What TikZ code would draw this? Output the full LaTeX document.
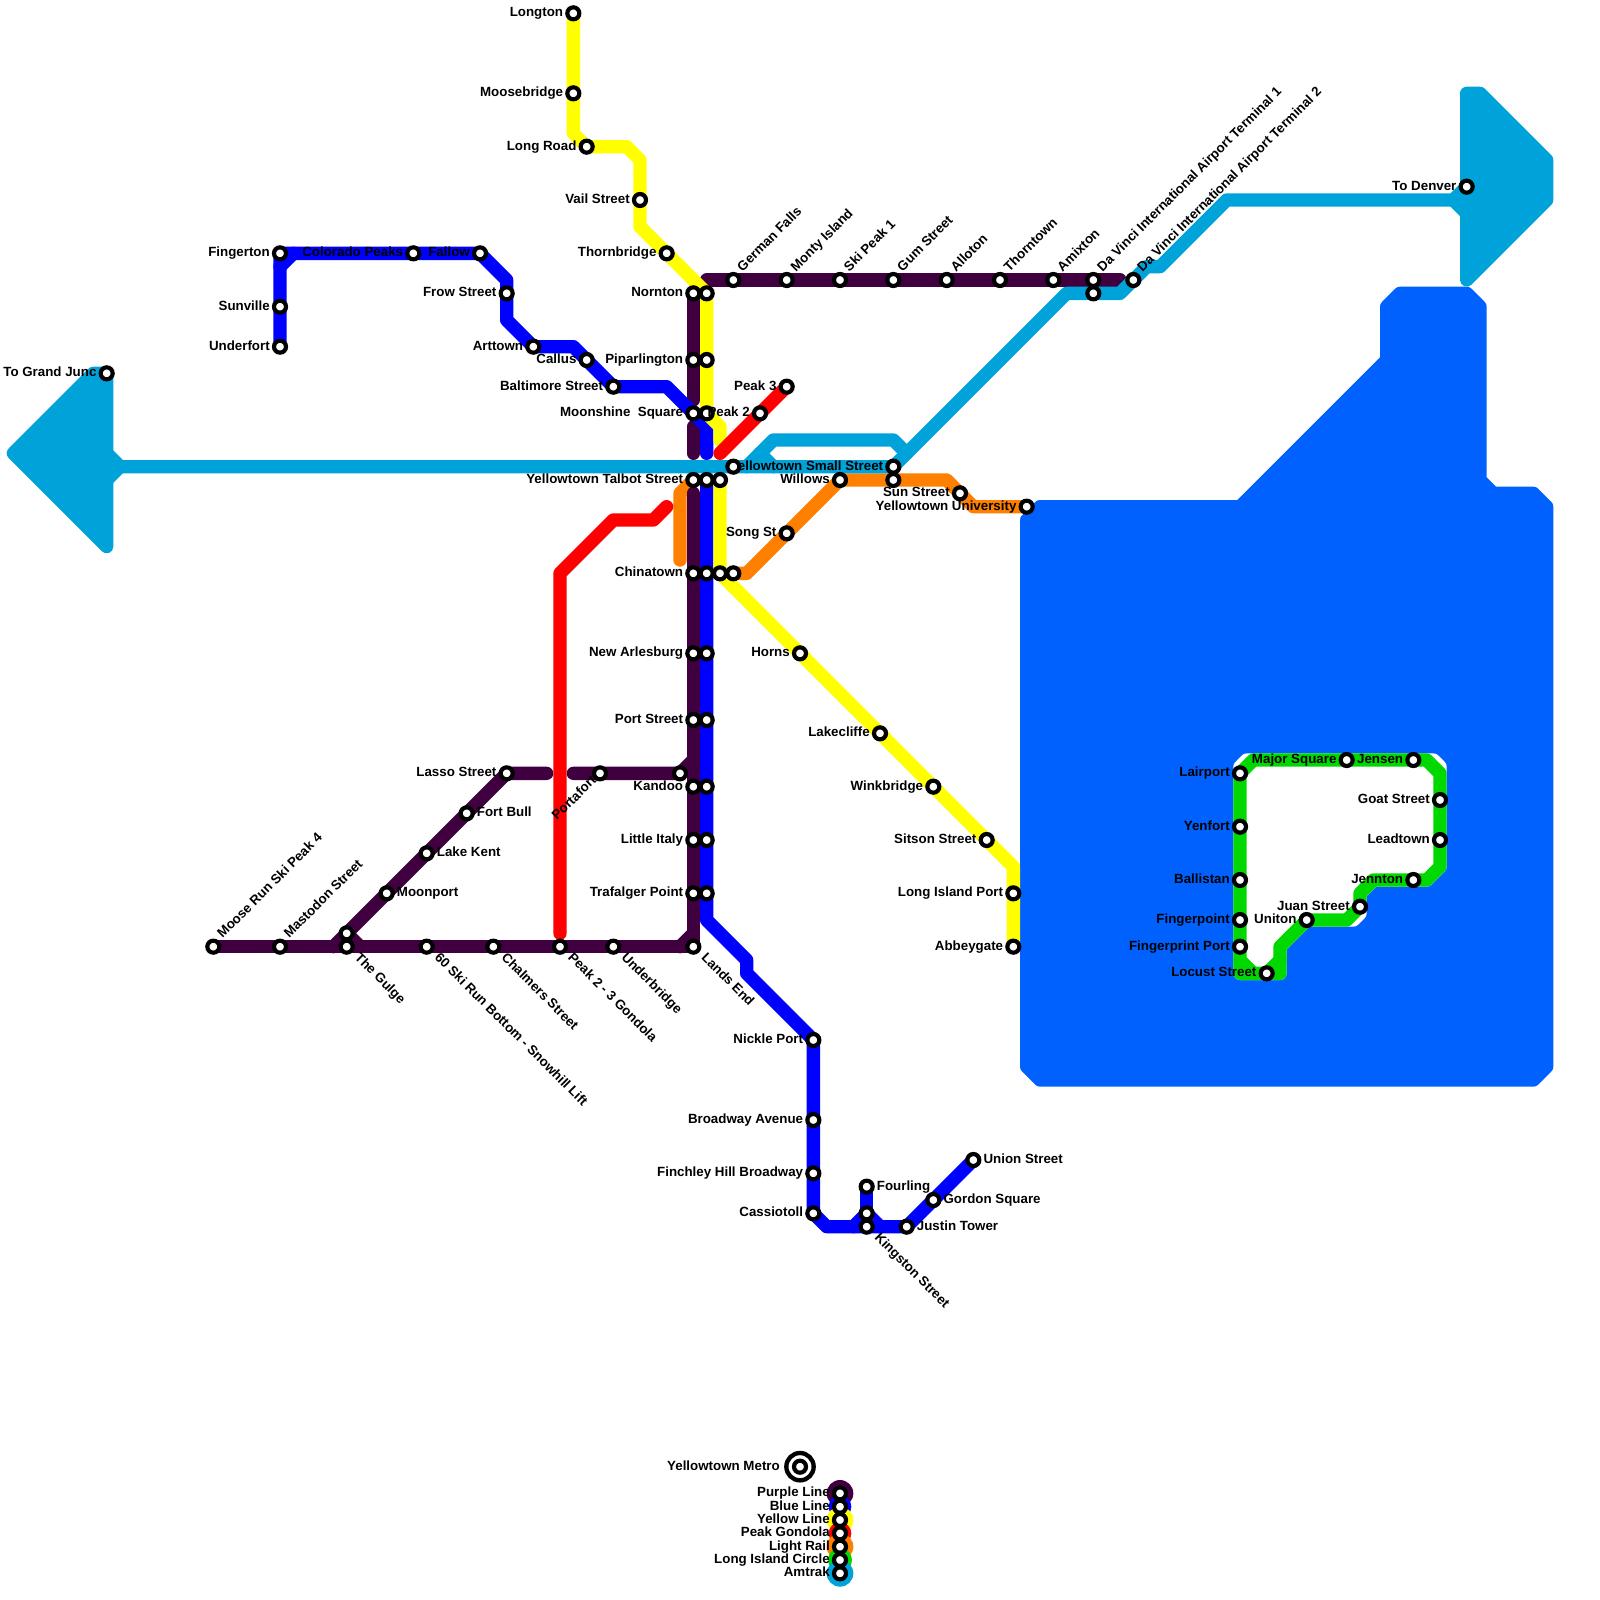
\documentclass[tikz,border=0pt]{standalone}
\usepackage{fontspec}
\setmainfont{Liberation Sans}
\definecolor{cpurple}{HTML}{400040}
\definecolor{cblue}{HTML}{0000FF}
\definecolor{cyellow}{HTML}{FFFF00}
\definecolor{cred}{HTML}{FF0000}
\definecolor{corange}{HTML}{FF8000}
\definecolor{cgreen}{HTML}{00D800}
\definecolor{camtrak}{HTML}{00A3D9}
\definecolor{cbg}{HTML}{0061FF}
\pgfdeclarelayer{lines}
\pgfsetlayers{lines,main}
\tikzset{
 stn/.style={circle,draw=black,fill=white,line width=.125cm,minimum size=.36cm,inner sep=0pt,outer sep=0pt},
 lbl/.style={inner sep=0pt,font=\fontsize{11.38}{13}\bfseries\selectfont,text=black},
 lblL/.style={lbl,anchor=base east,xshift=-.3cm,yshift=-.1cm},
 lblR/.style={lbl,anchor=base west,xshift=.3cm,yshift=-.1cm},
 lblU/.style={lbl,anchor=base west,rotate=45,xshift=.36cm,yshift=-.03cm},
 lblD/.style={lbl,anchor=base west,rotate=-45,xshift=.40cm,yshift=-.09cm},
 lblP/.style={lbl,anchor=base east,rotate=45,xshift=-.22cm,yshift=-.1cm},
 route/.style={line width=.4cm,line cap=round,line join=round},
 mass/.style={line width=.4cm,line join=round,line cap=round},
}
\newcommand{\sn}[2]{\node[stn] (#1) at (#2) {};}
\newcommand{\lab}[4]{\node[#1] (#2t) at (#3) {#4};\node[stn] (#2) at (#3) {};}
\begin{document}
\begin{tikzpicture}[x=.4cm,y=-.4cm]
\useasboundingbox (0,0) rectangle (120,120);
% yellow line
\lab{lblL}{longton}{43,1}{Longton}
\lab{lblL}{moose}{43,7}{Moosebridge}
\lab{lblL}{longroad}{44,11}{Long Road}
\lab{lblL}{vail}{48,15}{Vail Street}
\lab{lblL}{thorn}{50,19}{Thornbridge}
\sn{ynorn}{53,22}
\sn{ypip}{53,27}
\sn{ytal}{54,36}
\sn{ychina}{54,43}
\lab{lblL}{horns}{60,49}{Horns}
\lab{lblL}{lake}{66,55}{Lakecliffe}
\lab{lblL}{wink}{70,59}{Winkbridge}
\lab{lblL}{sitson}{74,63}{Sitson Street}
\lab{lblL}{lip}{76,67}{Long Island Port}
\lab{lblL}{abbey}{76,71}{Abbeygate}
% purple column
\lab{lblL}{norn}{52,22}{Nornton}
\lab{lblL}{pip}{52,27}{Piparlington}
\lab{lblL}{square}{52,31}{Moonshine\hspace{.556em}Square}
\lab{lblL}{talbot}{52,36}{Yellowtown Talbot Street}
\lab{lblL}{china}{52,43}{Chinatown}
\lab{lblL}{newa}{52,49}{New Arlesburg}
\lab{lblL}{port}{52,54}{Port Street}
\lab{lblL}{kandoo}{52,59}{Kandoo}
\lab{lblL}{italy}{52,63}{Little Italy}
\lab{lblL}{traf}{52,67}{Trafalger Point}
\lab{lblD}{lands}{52,71}{Lands End}
\lab{lblD}{under}{46,71}{Underbridge}
\lab{lblD}{gondola}{42,71}{Peak 2 - 3 Gondola}
\lab{lblD}{chalm}{37,71}{Chalmers Street}
\lab{lblD}{ski}{32,71}{60 Ski Run Bottom - Snowhill Lift}
\lab{lblD}{gulge}{26,71}{The Gulge}
\lab{lblU}{mast}{21,71}{Mastodon Street}
\lab{lblU}{mrun}{16,71}{Moose Run Ski Peak 4}
\sn{gulgeb}{26,70}
\lab{lblR}{moonp}{29,67}{Moonport}
\lab{lblR}{lkent}{32,64}{Lake Kent}
\lab{lblR}{fbull}{35,61}{Fort Bull}
\lab{lblL}{lasso}{38,58}{Lasso Street}
\lab{lblP}{porta}{45,58}{Portafort}
\sn{kand}{51,58}
% purple top
\lab{lblU}{gfalls}{55,21}{German Falls}
\lab{lblU}{monty}{59,21}{Monty Island}
\lab{lblU}{skip}{63,21}{Ski Peak 1}
\lab{lblU}{gum}{67,21}{Gum Street}
\lab{lblU}{allo}{71,21}{Alloton}
\lab{lblU}{thorntown}{75,21}{Thorntown}
\lab{lblU}{amix}{79,21}{Amixton}
\lab{lblU}{dv}{82,21}{Da Vinci International Airport Terminal 1}
\sn{dvb}{82,22}
\lab{lblU}{dvt}{85,21}{Da Vinci International Airport Terminal 2}
% blue line
\lab{lblL}{finger}{21,19}{Fingerton}
\lab{lblL}{sun}{21,23}{Sunville}
\lab{lblL}{underf}{21,26}{Underfort}
\lab{lblL}{colo}{31,19}{Colorado Peaks}
\lab{lblL}{fallow}{36,19}{Fallow}
\lab{lblL}{frow}{38,22}{Frow Street}
\lab{lblL}{arttown}{40,26}{Arttown}
\lab{lblL}{callus}{44,27}{Callus}
\lab{lblL}{balt}{46,29}{Baltimore Street}
\sn{bsquare}{53,31}
\sn{btal}{53,36}
\sn{bchina}{53,43}
\sn{bnewa}{53,49}
\sn{bport}{53,54}
\sn{bkand}{53,59}
\sn{bitaly}{53,63}
\sn{btraf}{53,67}
\lab{lblL}{nickle}{61,78}{Nickle Port}
\lab{lblL}{broad}{61,84}{Broadway Avenue}
\lab{lblL}{finch}{61,88}{Finchley Hill Broadway}
\lab{lblL}{cass}{61,91}{Cassiotoll}
\lab{lblR}{fourl}{65,89}{Fourling}
\sn{kingb}{65,91}
\lab{lblD}{king}{65,92}{Kingston Street}
\lab{lblR}{justin}{68,92}{Justin Tower}
\lab{lblR}{gordon}{70,90}{Gordon Square}
\lab{lblR}{union}{73,87}{Union Street}
% gondola
\lab{lblL}{peakc}{59,29}{Peak 3}
\lab{lblL}{peakb}{57,31}{Peak 2}
% orange
\lab{lblL}{yuni}{77,38}{Yellowtown University}
\lab{lblL}{sunst}{72,37}{Sun Street}
\lab{lblL}{willows}{63,36}{Willows}
\lab{lblL}{song}{59,40}{Song St}
\sn{ochina}{55,43}
\sn{osmall}{67,36}
% amtrak
\lab{lblL}{grand}{8,28}{To Grand Junc}
\lab{lblL}{small}{67,35}{Yellowtown Small Street}
\sn{amid}{55,35}
\lab{lblL}{denver}{110,14}{To Denver}
% green
\lab{lblL}{lair}{93,58}{Lairport}
\lab{lblL}{yenf}{93,62}{Yenfort}
\lab{lblL}{ball}{93,66}{Ballistan}
\lab{lblL}{fpoint}{93,69}{Fingerpoint}
\lab{lblL}{fport}{93,71}{Fingerprint Port}
\lab{lblL}{locust}{95,73}{Locust Street}
\lab{lblL}{uniton}{98,69}{Uniton}
\lab{lblL}{juan}{102,68}{Juan Street}
\lab{lblL}{jenn}{106,66}{Jennton}
\lab{lblL}{lead}{108,63}{Leadtown}
\lab{lblL}{goat}{108,60}{Goat Street}
\lab{lblL}{jensen}{106,57}{Jensen}
\lab{lblL}{major}{101,57}{Major Square}
% legend
\node[lbl,anchor=base east] (metrot) at ([xshift=-.6cm,yshift=-.1cm]60,110) {Yellowtown Metro};
\node[circle,draw=black,fill=white,line width=.13cm,minimum size=.82cm,inner sep=0pt,outer sep=0pt] (metroo) at (60,110) {};
\sn{metro}{60,110}
\lab{lblL}{lpurple}{63,112}{Purple Line}
\lab{lblL}{lblue}{63,113}{Blue Line}
\lab{lblL}{lyellow}{63,114}{Yellow Line}
\lab{lblL}{lred}{63,115}{Peak Gondola}
\lab{lblL}{lorange}{63,116}{Light Rail}
\lab{lblL}{lgreen}{63,117}{Long Island Circle}
\lab{lblL}{lamtrak}{63,118}{Amtrak}
\begin{pgfonlayer}{lines}
% water
\draw[mass,draw=cbg,fill=cbg] (77,39)--(78,38)--(93,38)--(104,27)--(104,23)--(105,22)--(110,22)--(111,23)--(111,36)--(112,37)--(115,37)--(116,38)--(116,80)--(115,81)--(78,81)--(77,80)--cycle;
\draw[mass,draw=white,fill=white] (93,57.5)--(93.5,57)--(107.5,57)--(108,57.5)--(108,65)--(107,66)--(103,66)--(102,67)--(102,68.5)--(101.5,69)--(98,69)--(96,71)--(96,73)--(93,73)--cycle;
% orange
\draw[route,corange] (yuni.center)--(73,38)--(71,36)--(63,36)--(56,43)--(ochina.center);
\draw[route,corange] (talbot.center)--(51,37)--(51,42);
% purple
\draw[route,cpurple] (norn.center)--(52,30);
\draw[route,cpurple] (52,32)--(52,34);
\draw[route,cpurple] (52,37)--(lands.center);
\draw[route,cpurple] (mrun.center)--(lands.center);
\draw[route,cpurple] (51,71)--(52,70);
\draw[route,cpurple] (25,71)--(gulgeb.center)--(27,71);
\draw[route,cpurple] (gulgeb.center)--(lasso.center)--(41,58);
\draw[route,cpurple] (43,58)--(kand.center)--(52,57);
\draw[route,cpurple] (53,21)--(84,21);
% blue
\draw[route,cblue] (underf.center)--(finger.center)--(fallow.center)--(38,21)--(38,24)--(arttown.center)--(43,26)--(balt.center)--(50,29)--(53,32)--(53,34);
\draw[route,cblue] (21,20)--(22,19);
\draw[route,cblue] (btal.center)--(53,69)--(56,72)--(56,73)--(nickle.center)--(cass.center)--(62,92)--(justin.center)--(union.center);
\draw[route,cblue] (fourl.center)--(king.center);
\draw[route,cblue] (64,92)--(kingb.center)--(66,92);
% yellow
\draw[route,cyellow] (longton.center)--(43,10)--(longroad.center)--(47,11)--(48,12)--(48,17)--(ynorn.center)--(53,31)--(54,32)--(54,33);
\draw[route,cyellow] (ytal.center)--(ychina.center)--(76,65)--(abbey.center);
% red
\draw[route,cred] (peakc.center)--(54,34);
\draw[route,cred] (50,38)--(49,39)--(46,39)--(42,43)--(42,70);
% green
\draw[route,cgreen] (lair.center)--(94,57)--(107,57)--(108,58)--(108,65)--(107,66)--(jenn.center)--(103,66)--(102,67)--(juan.center)--(101,69)--(uniton.center)--(96,71)--(96,73)--(93,73)--cycle;
\draw[route,cgreen] (93,72)--(94,73);
\draw[route,cgreen] (95,73)--(96,72);
% amtrak
\draw[mass,draw=camtrak,fill=camtrak] (grand.center)--(7,28)--(1,34)--(8,41)--cycle;
\draw[mass,draw=camtrak,fill=camtrak] (110,7)--(111,7)--(116,12)--(116,15)--(110,21)--cycle;
\draw[route,camtrak] (8,34)--(9,35)--(small.center)--(68,34)--(80,22)--(84,22)--(86,20)--(87,20)--(92,15)--(109,15)--(denver.center);
\draw[route,camtrak] (8,36)--(9,35);
\draw[route,camtrak] (109,15)--(110,16);
\draw[route,camtrak] (56,35)--(58,33)--(67,33)--(68,34);
\draw[route,camtrak] (57,34)--(58,35);
% legend discs
\fill[cpurple] (lpurple.center) circle (1);
\fill[cblue] (lblue.center) circle (.85);
\fill[cyellow] (lyellow.center) circle (1);
\fill[cred] (lred.center) circle (.85);
\fill[corange] (lorange.center) circle (1);
\fill[cgreen] (lgreen.center) circle (.9);
\fill[camtrak] (lamtrak.center) circle (1);
\end{pgfonlayer}
\end{tikzpicture}
\end{document}
